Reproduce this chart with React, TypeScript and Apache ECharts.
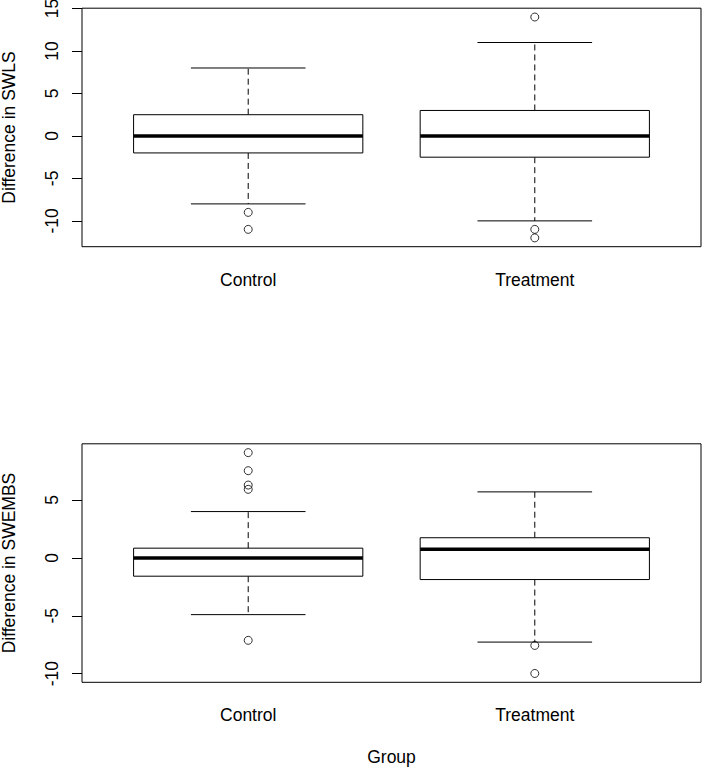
import React, { useEffect, useRef } from "react";
import * as echarts from "echarts";

const groups = ["Control", "Treatment"];
// [min whisker, Q1, median, Q3, max whisker]
const swlsStats = [
  [-8, -2, 0, 2.5, 8],
  [-10, -2.5, 0, 3, 11],
];
const swlsOutliers = [
  [1, -9], [1, -11],
  [2, 14], [2, -11], [2, -12],
];
const swembsStats = [
  [-4.9, -1.58, 0, 0.84, 4],
  [-7.27, -1.87, 0.75, 1.74, 5.7],
];
const swembsOutliers = [
  [1, 9.09], [1, 7.53], [1, 6.29], [1, 5.92], [1, -7.12],
  [2, -7.56], [2, -9.98],
];
const swlsTicks = [-10, -5, 0, 5, 10, 15];
const swembsTicks = [-10, -5, 0, 5];

const FONT = "Liberation Sans, Arial, Helvetica, sans-serif";
const FS = 17.5;

function extent(stats: number[][], outs: number[][]) {
  const vals: number[] = [];
  stats.forEach((s) => vals.push(...s));
  outs.forEach((o) => vals.push(o[1]));
  const lo = Math.min(...vals);
  const hi = Math.max(...vals);
  const pad = (hi - lo) * 0.04;
  return [lo - pad, hi + pad];
}

function renderBox(params: any, api: any) {
  const x = api.value(0);
  const mn = api.value(1), q1 = api.value(2), md = api.value(3), q3 = api.value(4), mx = api.value(5);
  const boxW = api.size([0.8, 0])[0];
  const capW = boxW * 0.5;
  const c = api.coord([x, md]);
  const cx = c[0];
  const yMin = api.coord([x, mn])[1];
  const yQ1 = api.coord([x, q1])[1];
  const yMd = c[1];
  const yQ3 = api.coord([x, q3])[1];
  const yMax = api.coord([x, mx])[1];
  const solid = { stroke: "#000", lineWidth: 1 };
  const dashed = { stroke: "#000", lineWidth: 1, lineDash: [6, 4] };
  return {
    type: "group",
    children: [
      { type: "line", shape: { x1: cx, y1: yQ3, x2: cx, y2: yMax }, style: dashed },
      { type: "line", shape: { x1: cx, y1: yQ1, x2: cx, y2: yMin }, style: dashed },
      { type: "line", shape: { x1: cx - capW / 2, y1: yMax, x2: cx + capW / 2, y2: yMax }, style: solid },
      { type: "line", shape: { x1: cx - capW / 2, y1: yMin, x2: cx + capW / 2, y2: yMin }, style: solid },
      {
        type: "rect",
        shape: { x: cx - boxW / 2, y: yQ3, width: boxW, height: yQ1 - yQ3 },
        style: { fill: "#fff", stroke: "#000", lineWidth: 1 },
      },
      { type: "line", shape: { x1: cx - boxW / 2, y1: yMd, x2: cx + boxW / 2, y2: yMd }, style: { stroke: "#000", lineWidth: 3.5 } },
    ],
  };
}

export default function App() {
  const ref = useRef<HTMLDivElement>(null);
  useEffect(() => {
    if (!ref.current) return;
    const chart = echarts.init(ref.current, null, { renderer: "svg" });
    const [t0, t1] = extent(swlsStats, swlsOutliers);
    const [b0, b1] = extent(swembsStats, swembsOutliers);
    const xAxisBase = (gridIndex: number, name: string) => ({
      type: "value",
      gridIndex,
      min: 0.42,
      max: 2.58,
      name,
      nameLocation: "middle",
      nameGap: 66,
      nameTextStyle: { fontFamily: FONT, fontSize: FS, color: "#000" },
      axisLine: { show: false },
      splitLine: { show: false },
      axisTick: { show: true, length: 10, inside: false, customValues: [1, 2], lineStyle: { color: "#000", width: 1 } },
      axisLabel: {
        show: true,
        customValues: [1, 2],
        margin: 24,
        fontFamily: FONT,
        fontSize: FS,
        color: "#000",
        formatter: (v: number) => groups[Math.round(v) - 1] ?? "",
      },
    });
    const yAxisBase = (gridIndex: number, name: string, lo: number, hi: number, ticks: number[]) => ({
      type: "value",
      gridIndex,
      min: lo,
      max: hi,
      name,
      nameLocation: "middle",
      nameRotate: 90,
      nameGap: 64,
      nameTextStyle: { fontFamily: FONT, fontSize: FS, color: "#000" },
      axisLine: { show: false },
      splitLine: { show: false },
      axisTick: { show: true, length: 10, inside: false, customValues: ticks, lineStyle: { color: "#000", width: 1 } },
      axisLabel: {
        show: true,
        customValues: ticks,
        rotate: 90,
        margin: 21,
        fontFamily: FONT,
        fontSize: FS,
        color: "#000",
      },
    });
    const outlierStyle = {
      type: "scatter",
      symbol: "circle",
      symbolSize: 8,
      itemStyle: { color: "rgba(0,0,0,0)", borderColor: "#000", borderWidth: 1 },
      z: 5,
    };
    chart.setOption({
      animation: false,
      backgroundColor: "#fff",
      grid: [
        { left: 82, top: 8.2, width: 619, height: 238.5, show: true, borderColor: "#000", borderWidth: 1, backgroundColor: "transparent", outerBoundsMode: "none", containLabel: false },
        { left: 82, top: 443.8, width: 619, height: 238.5, show: true, borderColor: "#000", borderWidth: 1, backgroundColor: "transparent", outerBoundsMode: "none", containLabel: false },
      ],
      xAxis: [xAxisBase(0, ""), xAxisBase(1, "Group")],
      yAxis: [
        yAxisBase(0, "Difference in SWLS", t0, t1, swlsTicks),
        yAxisBase(1, "Difference in SWEMBS", b0, b1, swembsTicks),
      ],
      series: [
        {
          type: "custom",
          xAxisIndex: 0,
          yAxisIndex: 0,
          renderItem: renderBox,
          encode: { x: 0, y: [1, 2, 3, 4, 5] },
          data: swlsStats.map((s, i) => [i + 1, ...s]),
          z: 3,
        },
        { ...outlierStyle, xAxisIndex: 0, yAxisIndex: 0, data: swlsOutliers },
        {
          type: "custom",
          xAxisIndex: 1,
          yAxisIndex: 1,
          renderItem: renderBox,
          encode: { x: 0, y: [1, 2, 3, 4, 5] },
          data: swembsStats.map((s, i) => [i + 1, ...s]),
          z: 3,
        },
        { ...outlierStyle, xAxisIndex: 1, yAxisIndex: 1, data: swembsOutliers },
      ],
    });
    return () => chart.dispose();
  }, []);
  return (
    <div
      ref={ref}
      style={{ position: "absolute", left: 0, top: 0, width: 702, height: 768, background: "#fff" }}
    />
  );
}
